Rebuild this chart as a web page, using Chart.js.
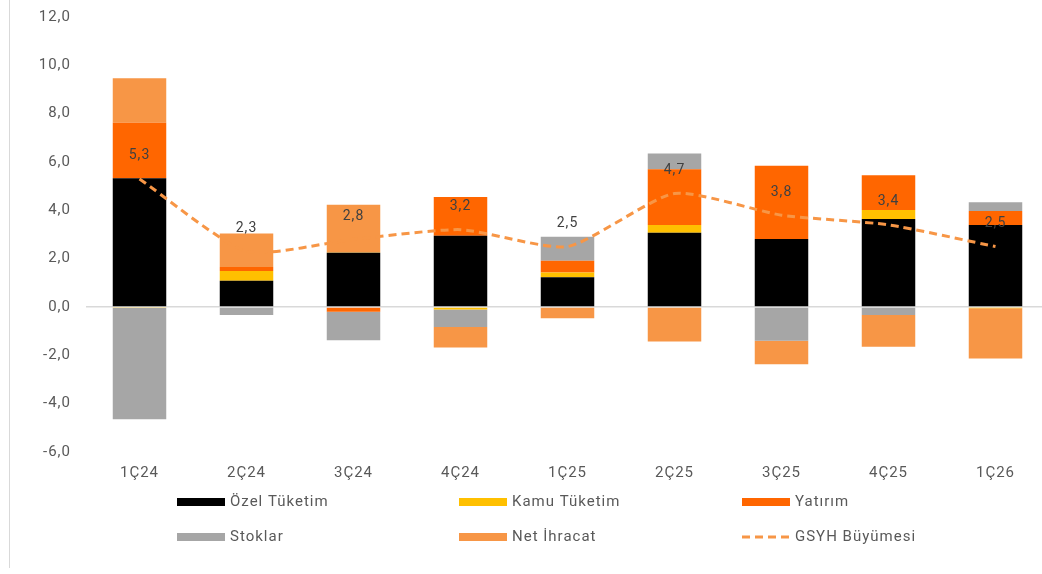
<!DOCTYPE html>
<html>
<head>
<meta charset="utf-8">
<script src="https://cdn.jsdelivr.net/npm/chart.js@4.4.1/dist/chart.umd.min.js"></script>
<style>
  html, body { margin: 0; padding: 0; background: #fff; overflow: hidden; }
</style>
</head>
<body>
<canvas id="gdpChart" width="1060" height="574"></canvas>
<script>
var quarters = ['1Ç24', '2Ç24', '3Ç24', '4Ç24', '1Ç25', '2Ç25', '3Ç25', '4Ç25', '1Ç26'];
var ozelTuketim = [5.33, 1.09, 2.24, 2.95, 1.23, 3.07, 2.81, 3.64, 3.39];
var kamuTuketim = [-0.04, 0.40, 0.02, -0.10, 0.20, 0.32, 0.00, 0.37, -0.05];
var yatirim = [2.29, 0.17, -0.20, 1.60, 0.48, 2.31, 3.03, 1.44, 0.58];
var stoklar = [-4.60, -0.33, -1.18, -0.73, 1.00, 0.65, -1.40, -0.33, 0.36];
var netIhracat = [1.85, 1.38, 1.97, -0.85, -0.47, -1.43, -0.97, -1.31, -2.08];
var gsyhBuyume = [5.3, 2.3, 2.8, 3.2, 2.5, 4.7, 3.8, 3.4, 2.5];

var yTicks = [-6, -4, -2, 0, 2, 4, 6, 8, 10, 12];

function trNum(v) {
	return v.toFixed(1).replace('.', ',');
}

var FONT = 'Roboto, "Liberation Sans", sans-serif';
var TEXT_GRAY = '#595959';

// a bit of tracking on all text, like the original
var spacing = {
	id: 'spacing',
	beforeLayout: function(chart) { chart.ctx.letterSpacing = '1px'; },
	beforeDraw: function(chart) { chart.ctx.letterSpacing = '1px'; }
};

// labels above the growth line
var lineLabels = {
	id: 'lineLabels',
	afterDatasetsDraw: function(chart) {
		var ctx = chart.ctx;
		var idx = chart.data.datasets.length - 1;
		var meta = chart.getDatasetMeta(idx);
		ctx.save();
		ctx.font = '14px ' + FONT;
		ctx.fillStyle = '#404040';
		ctx.textAlign = 'center';
		ctx.textBaseline = 'middle';
		meta.data.forEach(function(pt, i) {
			ctx.fillText(trNum(chart.data.datasets[idx].data[i]), pt.x, pt.y - 23);
		});
		ctx.restore();
	}
};

// legend in 3 columns, plus left frame line
var gridLegend = {
	id: 'gridLegend',
	afterDraw: function(chart) {
		var ctx = chart.ctx;
		var cols = [177, 459, 742];
		var rows = [502, 537];
		ctx.save();
		ctx.strokeStyle = '#d9d9d9';
		ctx.lineWidth = 1;
		ctx.beginPath();
		ctx.moveTo(9.5, 0);
		ctx.lineTo(9.5, 568);
		ctx.stroke();
		ctx.font = '15px ' + FONT;
		ctx.textBaseline = 'middle';
		ctx.textAlign = 'left';
		chart.data.datasets.forEach(function(ds, i) {
			var x = cols[i % 3], y = rows[Math.floor(i / 3)];
			if (ds.type === 'line') {
				ctx.strokeStyle = ds.borderColor;
				ctx.lineWidth = 3;
				ctx.setLineDash([8, 5]);
				ctx.beginPath();
				ctx.moveTo(x, y);
				ctx.lineTo(x + 48, y);
				ctx.stroke();
				ctx.setLineDash([]);
			} else {
				ctx.fillStyle = ds.backgroundColor;
				ctx.fillRect(x, y - 4, 48, 8);
			}
			ctx.fillStyle = TEXT_GRAY;
			ctx.fillText(ds.label, x + 53, y);
		});
		ctx.restore();
	}
};

var ctx = document.getElementById('gdpChart').getContext('2d');
var chart = new Chart(ctx, {
	type: 'bar',
	data: {
		labels: quarters,
		datasets: [
			{ label: 'Özel Tüketim', data: ozelTuketim, backgroundColor: '#000000', order: 1 },
			{ label: 'Kamu Tüketim', data: kamuTuketim, backgroundColor: '#FFC000', order: 1 },
			{ label: 'Yatırım', data: yatirim, backgroundColor: '#FF6600', order: 1 },
			{ label: 'Stoklar', data: stoklar, backgroundColor: '#A6A6A6', order: 1 },
			{ label: 'Net İhracat', data: netIhracat, backgroundColor: '#F79646', order: 1 },
			{
				type: 'line',
				label: 'GSYH Büyümesi',
				data: gsyhBuyume,
				borderColor: '#F79646',
				backgroundColor: '#F79646',
				borderWidth: 3,
				borderDash: [8, 5],
				pointRadius: 0,
				tension: 0.2,
				fill: false,
				stack: 'line',
				order: 0
			}
		]
	},
	options: {
		responsive: false,
		animation: false,
		layout: { padding: { top: 17, right: 11, bottom: 0, left: 0 } },
		datasets: {
			bar: { categoryPercentage: 1, barPercentage: 0.5 }
		},
		plugins: {
			legend: { display: false },
			tooltip: { enabled: false }
		},
		scales: {
			x: {
				stacked: true,
				grid: { display: false, drawTicks: false },
				border: { display: false },
				ticks: { color: TEXT_GRAY, font: { family: FONT, size: 15 }, padding: 12 },
				afterFit: function(scale) { scale.height = 122; }
			},
			y: {
				stacked: true,
				min: -6,
				max: 12,
				afterBuildTicks: function(scale) {
					scale.ticks = yTicks.map(function(v) { return { value: v }; });
				},
				grid: {
					drawTicks: false,
					color: function(c) { return c.tick && c.tick.value === 0 ? '#d9d9d9' : 'rgba(0,0,0,0)'; },
					lineWidth: 1.5
				},
				border: { display: false },
				ticks: {
					color: TEXT_GRAY,
					font: { family: FONT, size: 15 },
					padding: 15,
					callback: function(v) { return trNum(v); }
				},
				afterFit: function(scale) {
					scale.width = 86;
					scale.paddingTop = 0;
					scale.paddingBottom = 0;
				}
			}
		}
	},
	plugins: [spacing, lineLabels, gridLegend]
});
</script>
</body>
</html>
